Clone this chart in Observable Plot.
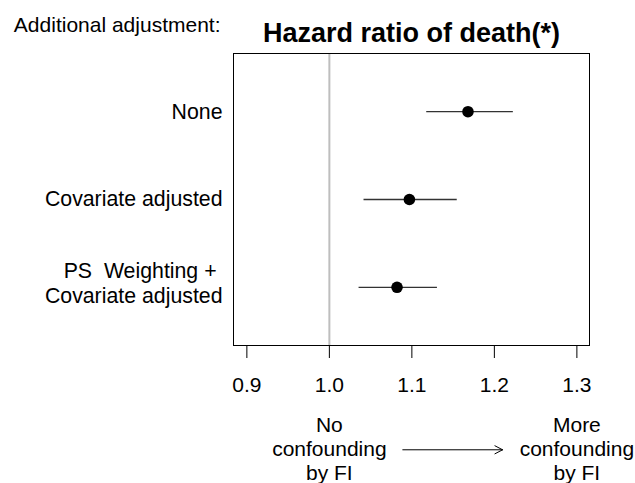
<!DOCTYPE html>
<html>
<head>
<meta charset="utf-8">
<script src="https://cdn.jsdelivr.net/npm/d3@7"></script>
<script src="https://cdn.jsdelivr.net/npm/@observablehq/plot@0.6"></script>
<style>
  html, body { margin: 0; padding: 0; background: #fff; }
  #chart svg text { white-space: pre; }
</style>
</head>
<body>
<div id="chart"></div>
<script>
// ---- data ----
const models = ["None", "Covariate adjusted", "PS  Weighting + \nCovariate adjusted"];
const hr = [1.168, 1.097, 1.082];
const lower = [1.118, 1.042, 1.036];
const upper = [1.223, 1.155, 1.131];
const xTicks = [0.9, 1.0, 1.1, 1.2, 1.3];
const referenceValue = 1.0;
const titleText = "Hazard ratio of death(*)";
const sideHeading = "Additional adjustment:";
const leftNote = ["No", "confounding", "by FI"];
const rightNote = ["More", "confounding", "by FI"];
const leftNoteX = 1.0;
const rightNoteX = 1.3;
const arrowFrom = 1.089;
const arrowTo = 1.210;
const arrowRow = 4.85;

// ---- build table ----
const rows = models.map((m, i) => ({model: m, row: i + 1, hr: hr[i], lo: lower[i], hi: upper[i]}));
const notes = [
  ...leftNote.map((t, i) => ({text: t, x: leftNoteX, line: i})),
  ...rightNote.map((t, i) => ({text: t, x: rightNoteX, line: i}))
];

const font = "'Liberation Sans', Arial, Helvetica, sans-serif";

const noteMarks = [0, 1, 2].map((line) =>
  Plot.text(notes.filter((d) => d.line === line), {
    x: "x", text: "text", frameAnchor: "bottom", lineAnchor: "middle",
    dy: 80 + line * 24, fontSize: 21, fill: "black"
  })
);

const singleRows = rows.filter((d) => !d.model.includes("\n"));
const multiRows = rows.filter((d) => d.model.includes("\n"));

const chart = Plot.plot({
  width: 635,
  height: 483,
  marginLeft: 233,
  marginRight: 46,
  marginTop: 53,
  marginBottom: 138,
  style: {fontFamily: font, fontSize: "21px", color: "black", background: "white"},
  x: {domain: [0.8838, 1.3153]},
  y: {domain: [0.3375, 3.6625], reverse: true, axis: null},
  marks: [
    Plot.ruleX([referenceValue], {stroke: "#bebebe", strokeWidth: 2}),
    Plot.frame({stroke: "black", strokeWidth: 1}),
    Plot.axisX({
      ticks: xTicks, tickSize: 13, tickPadding: 19,
      tickFormat: d3.format(".1f"), fontSize: 21, label: null, stroke: "black"
    }),
    Plot.ruleY(rows, {y: "row", x1: "lo", x2: "hi", stroke: "#333", strokeWidth: 1.3}),
    Plot.dot(rows, {x: "hr", y: "row", r: 5.8, fill: "black", stroke: "none"}),
    Plot.text(singleRows, {
      y: "row", text: "model", frameAnchor: "left", textAnchor: "end",
      dx: -11, dy: 0, fontSize: 21.3, fill: "black"
    }),
    Plot.text(multiRows, {
      y: "row", text: "model", frameAnchor: "left", textAnchor: "end",
      dx: -11, dy: -5, lineHeight: 1.2, fontSize: 21.3, fill: "black"
    }),
    Plot.text([titleText], {
      frameAnchor: "top", lineAnchor: "middle", dy: -20, fontSize: 27, fontWeight: "bold", fill: "black"
    }),
    Plot.text([sideHeading], {
      frameAnchor: "top-left", lineAnchor: "middle", textAnchor: "end", dx: -13, dy: -28, fontSize: 21, fill: "black"
    }),
    ...noteMarks,
    Plot.arrow([{a: arrowFrom, b: arrowTo}], {
      x1: "a", x2: "b", y1: () => arrowRow, y2: () => arrowRow,
      stroke: "black", strokeWidth: 1, headLength: 13, headAngle: 55
    })
  ]
});
document.getElementById("chart").appendChild(chart);
</script>
</body>
</html>
